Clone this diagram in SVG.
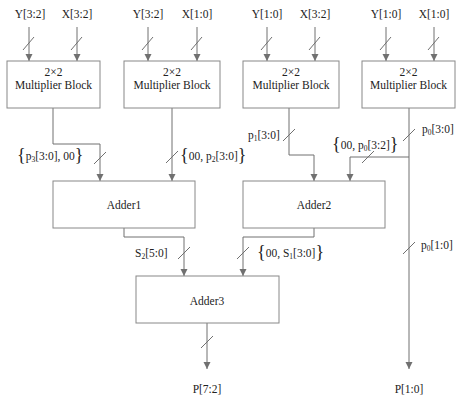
<svg xmlns="http://www.w3.org/2000/svg" width="456" height="402" viewBox="0 0 456 402">
<style>
.box{fill:#fff;stroke:#888;stroke-width:1}
.ln{fill:none;stroke:#707070;stroke-width:1}
.sl{stroke:#707070;stroke-width:1}
.t{font-family:"Liberation Serif","Times New Roman",serif;font-size:11.5px;fill:#222}
.c{text-anchor:middle}
.br{font-size:18px}
.sub{font-size:7.5px}
</style>
<defs>
<marker id="ad" markerUnits="userSpaceOnUse" markerWidth="8" markerHeight="8" refX="7" refY="3.5" orient="auto" viewBox="0 0 8 7">
<path d="M0,0 L7,3.5 L0,7 Z" fill="#707070"/>
</marker>
</defs>

<g id="connectors">
<path class="ln" d="M29,27 V61" marker-end="url(#ad)"/>
<path class="ln" d="M77,27 V61" marker-end="url(#ad)"/>
<path class="ln" d="M148,27 V61" marker-end="url(#ad)"/>
<path class="ln" d="M197,27 V61" marker-end="url(#ad)"/>
<path class="ln" d="M267,27 V61" marker-end="url(#ad)"/>
<path class="ln" d="M315,27 V61" marker-end="url(#ad)"/>
<path class="ln" d="M386,27 V61" marker-end="url(#ad)"/>
<path class="ln" d="M434,27 V61" marker-end="url(#ad)"/>
<line class="sl" x1="23" y1="50" x2="34" y2="37"/>
<line class="sl" x1="71" y1="50" x2="82" y2="37"/>
<line class="sl" x1="142" y1="50" x2="153" y2="37"/>
<line class="sl" x1="191" y1="50" x2="202" y2="37"/>
<line class="sl" x1="261" y1="50" x2="272" y2="37"/>
<line class="sl" x1="309" y1="50" x2="320" y2="37"/>
<line class="sl" x1="380" y1="50" x2="391" y2="37"/>
<line class="sl" x1="428" y1="50" x2="439" y2="37"/>
<path class="ln" d="M53,108 V144 H100 V181" marker-end="url(#ad)"/>
<line class="sl" x1="94" y1="164" x2="106" y2="152"/>
<path class="ln" d="M172,108 V181" marker-end="url(#ad)"/>
<line class="sl" x1="166" y1="163" x2="178" y2="151"/>
<path class="ln" d="M289,108 V155 H314 V181" marker-end="url(#ad)"/>
<line class="sl" x1="283" y1="141" x2="295" y2="129"/>
<path class="ln" d="M409,108 V369" marker-end="url(#ad)"/>
<line class="sl" x1="403" y1="141" x2="415" y2="129"/>
<line class="sl" x1="403" y1="254" x2="415" y2="242"/>
<path class="ln" d="M409,157 H350 V181" marker-end="url(#ad)"/>
<line class="sl" x1="362" y1="163" x2="374" y2="151"/>
<path class="ln" d="M124,228 V237 H184 V276" marker-end="url(#ad)"/>
<line class="sl" x1="178" y1="259" x2="190" y2="247"/>
<path class="ln" d="M314,228 V237 H243 V276" marker-end="url(#ad)"/>
<line class="sl" x1="237" y1="259" x2="249" y2="247"/>
<path class="ln" d="M207,323 V369" marker-end="url(#ad)"/>
<line class="sl" x1="201" y1="348" x2="213" y2="336"/>
</g>

<g id="inputs">
<text class="t c" x="30" y="18">Y[3:2]</text>
<text class="t c" x="77" y="18">X[3:2]</text>
<text class="t c" x="148" y="18">Y[3:2]</text>
<text class="t c" x="197" y="18">X[1:0]</text>
<text class="t c" x="267" y="18">Y[1:0]</text>
<text class="t c" x="315" y="18">X[3:2]</text>
<text class="t c" x="386" y="18">Y[1:0]</text>
<text class="t c" x="434" y="18">X[1:0]</text>
</g>

<g id="mult1">
<rect class="box" x="7" y="61" width="93" height="47"/>
<text class="t c" x="53.5" y="76">2×2</text>
<text class="t c" x="53.5" y="89">Multiplier Block</text>
</g>
<g id="mult2">
<rect class="box" x="124" y="61" width="96" height="47"/>
<text class="t c" x="172" y="76">2×2</text>
<text class="t c" x="172" y="89">Multiplier Block</text>
</g>
<g id="mult3">
<rect class="box" x="243" y="61" width="96" height="47"/>
<text class="t c" x="291" y="76">2×2</text>
<text class="t c" x="291" y="89">Multiplier Block</text>
</g>
<g id="mult4">
<rect class="box" x="362" y="61" width="93" height="47"/>
<text class="t c" x="408.5" y="76">2×2</text>
<text class="t c" x="408.5" y="89">Multiplier Block</text>
</g>

<g id="adder1">
<rect class="box" x="53" y="181" width="142" height="47"/>
<text class="t c" x="124" y="209">Adder1</text>
</g>
<g id="adder2">
<rect class="box" x="243" y="181" width="142" height="47"/>
<text class="t c" x="314" y="209">Adder2</text>
</g>
<g id="adder3">
<rect class="box" x="136" y="276" width="143" height="47"/>
<text class="t c" x="207" y="305">Adder3</text>
</g>

<g id="labels">
<text class="t" x="17" y="160"><tspan class="br" dy="1">{</tspan><tspan dy="-1">p</tspan><tspan class="sub" dy="2">3</tspan><tspan dy="-2">[3:0], 00</tspan><tspan class="br" dy="1">}</tspan></text>
<text class="t" x="180" y="160"><tspan class="br" dy="1">{</tspan><tspan dy="-1">00, p</tspan><tspan class="sub" dy="2">2</tspan><tspan dy="-2">[3:0]</tspan><tspan class="br" dy="1">}</tspan></text>
<text class="t" x="248" y="139">p<tspan class="sub" dy="2">1</tspan><tspan dy="-2">[3:0]</tspan></text>
<text class="t" x="422" y="133">p<tspan class="sub" dy="2">0</tspan><tspan dy="-2">[3:0]</tspan></text>
<text class="t" x="332" y="149"><tspan class="br" dy="1">{</tspan><tspan dy="-1">00, p</tspan><tspan class="sub" dy="2">0</tspan><tspan dy="-2">[3:2]</tspan><tspan class="br" dy="1">}</tspan></text>
<text class="t" x="421" y="249">p<tspan class="sub" dy="2">0</tspan><tspan dy="-2">[1:0]</tspan></text>
<text class="t" x="135" y="257">S<tspan class="sub" dy="2">2</tspan><tspan dy="-2">[5:0]</tspan></text>
<text class="t" x="257" y="257"><tspan class="br" dy="1">{</tspan><tspan dy="-1">00, S</tspan><tspan class="sub" dy="2">1</tspan><tspan dy="-2">[3:0]</tspan><tspan class="br" dy="1">}</tspan></text>
<text class="t c" x="207" y="393">P[7:2]</text>
<text class="t c" x="409" y="393">P[1:0]</text>
</g>
</svg>
